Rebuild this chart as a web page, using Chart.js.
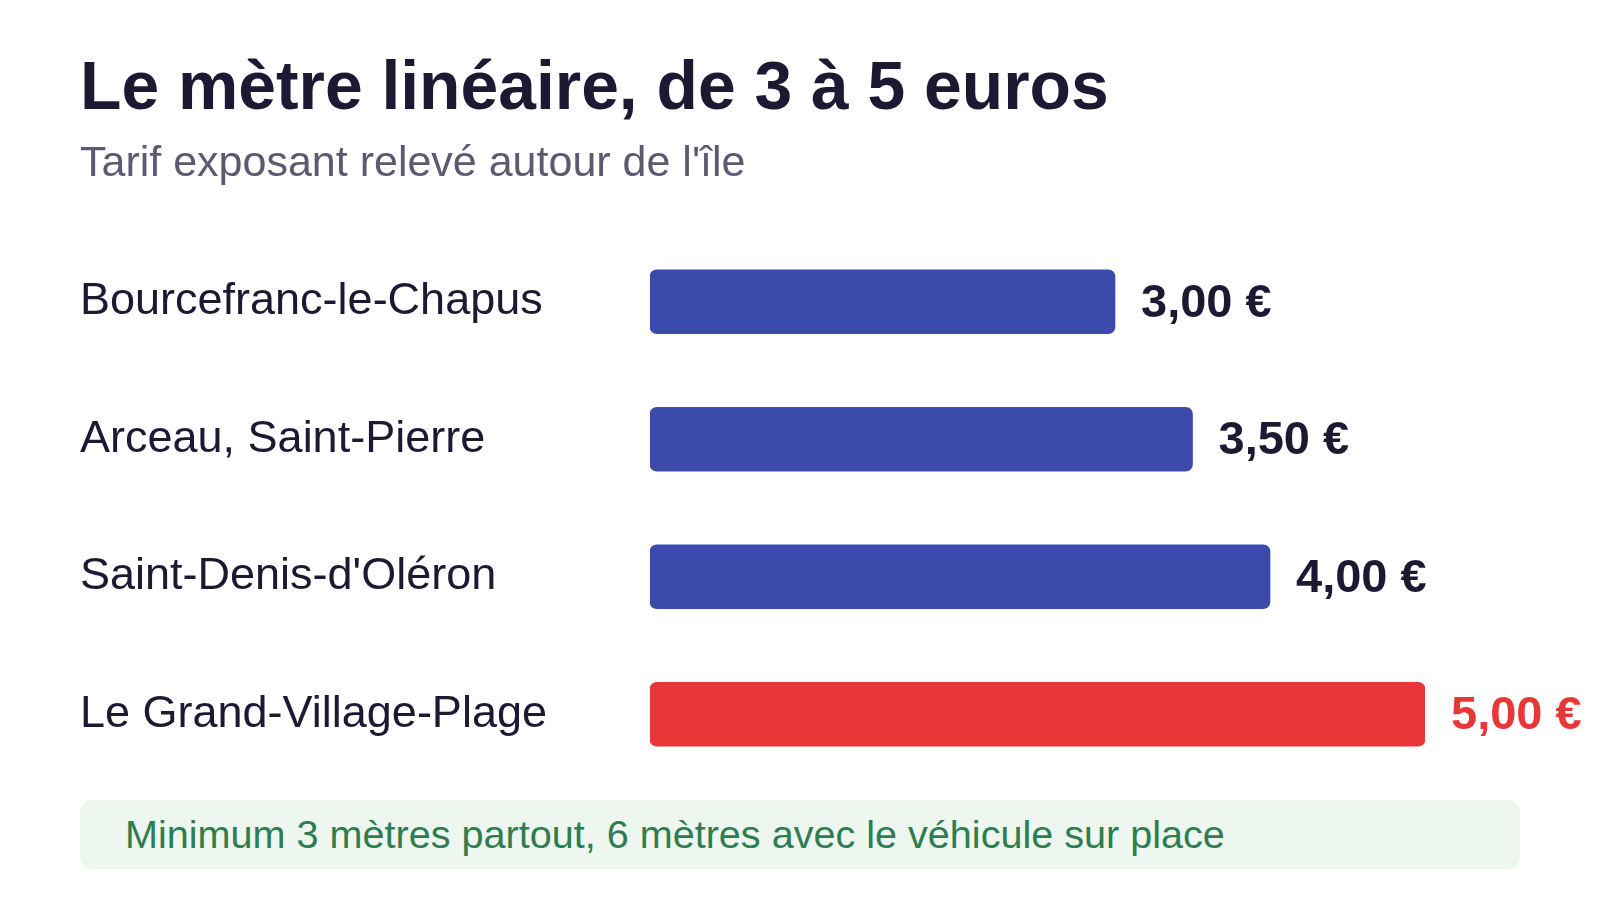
<!DOCTYPE html>
<html lang="fr">
<head>
<meta charset="utf-8">
<title>Le mètre linéaire, de 3 à 5 euros</title>
<script src="https://cdn.jsdelivr.net/npm/chart.js@4"></script>
<style>
    html, body { margin: 0; padding: 0; background: #ffffff; }
    #page { position: relative; width: 1600px; height: 900px; overflow: hidden; font-family: "Liberation Sans", Arial, sans-serif; }
    #chart-canvas { position: absolute; left: 0; top: 0; }
    h1 { position: absolute; left: 80px; top: 52px; margin: 0; font-size: 67.8px; line-height: 68px; font-weight: 700; color: #1c1a33; white-space: nowrap; }
    .subtitle { position: absolute; left: 80px; top: 140px; margin: 0; font-size: 43px; line-height: 42px; color: #5b5a72; white-space: nowrap; }
    .note { position: absolute; left: 80px; top: 800px; width: 1440px; height: 69px; box-sizing: border-box; padding-left: 45px; background: #edf6ef; border-radius: 12px; color: #2d7d50; font-size: 39.6px; line-height: 69px; white-space: nowrap; }
</style>
</head>
<body>
<div id="page">
    <canvas id="chart-canvas" width="1600" height="900"></canvas>
    <h1>Le mètre linéaire, de 3 à 5 euros</h1>
    <p class="subtitle">Tarif exposant relevé autour de l'île</p>
    <div class="note">Minimum 3 mètres partout, 6 mètres avec le véhicule sur place</div>
</div>
<script>
const communes = ['Bourcefranc-le-Chapus', 'Arceau, Saint-Pierre', "Saint-Denis-d'Oléron", 'Le Grand-Village-Plage'];
const tarifs = [3.00, 3.50, 4.00, 5.00];
const valueLabels = ['3,00 €', '3,50 €', '4,00 €', '5,00 €'];

const BLUE = '#3b4aab';
const RED = '#e93636';
const INK = '#1c1a33';

const chartEl = document.getElementById('chart-canvas');

// the highest tariff is highlighted
const maxTarif = Math.max(...tarifs);
const barColors = tarifs.map(t => t === maxTarif ? RED : BLUE);
const labelColors = tarifs.map(t => t === maxTarif ? RED : INK);

const valueLabelPlugin = {
    id: 'valueLabels',
    afterDatasetsDraw(chart) {
        const ctx = chart.ctx;
        const meta = chart.getDatasetMeta(0);
        ctx.save();
        ctx.font = 'bold 47px "Liberation Sans", Arial, sans-serif';
        ctx.textAlign = 'left';
        ctx.textBaseline = 'middle';
        meta.data.forEach((bar, i) => {
            ctx.fillStyle = labelColors[i];
            ctx.fillText(valueLabels[i], bar.x + 26, bar.y + 2);
        });
        ctx.restore();
    }
};

new Chart(chartEl, {
    type: 'bar',
    data: {
        labels: communes,
        datasets: [{
            data: tarifs,
            backgroundColor: barColors,
            barThickness: 64,
            borderRadius: 7,
            borderSkipped: false
        }]
    },
    options: {
        indexAxis: 'y',
        responsive: false,
        animation: false,
        devicePixelRatio: 1,
        layout: {
            padding: { top: 233, bottom: 117, left: 80, right: 175 }
        },
        plugins: {
            legend: { display: false },
            tooltip: { enabled: false }
        },
        scales: {
            x: {
                display: false,
                min: 0,
                max: 5
            },
            y: {
                grid: { display: false },
                border: { display: false },
                afterFit(scale) { scale.width = 570; },
                ticks: {
                    crossAlign: 'far',
                    color: INK,
                    padding: 0,
                    font: { family: '"Liberation Sans", Arial, sans-serif', size: 45 }
                }
            }
        }
    },
    plugins: [valueLabelPlugin]
});
</script>
</body>
</html>
